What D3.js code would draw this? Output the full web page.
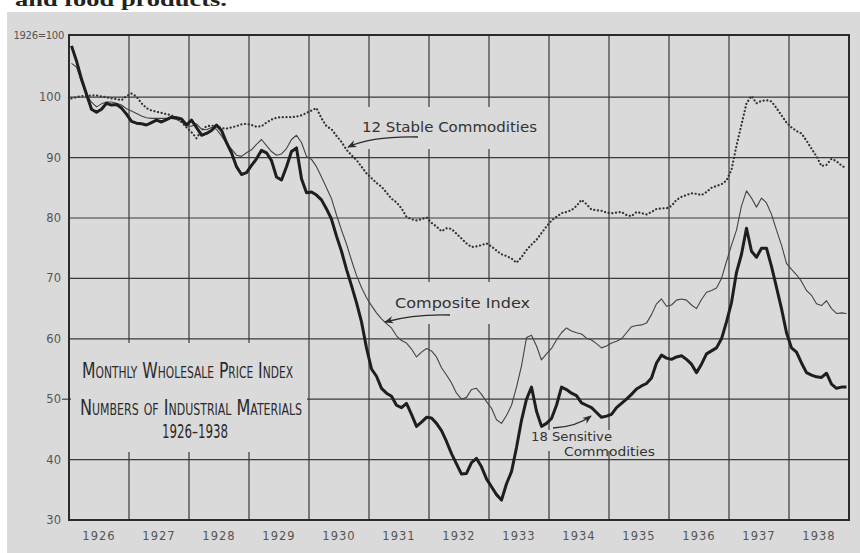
<!DOCTYPE html>
<html>
<head>
<meta charset="utf-8">
<script src="https://cdn.jsdelivr.net/npm/d3@7"></script>
<style>
  body { margin: 0; background: #fff; }
  svg { display: block; }
</style>
</head>
<body>
<div id="chart"></div>
<script>
// monthly index numbers, 1926 = 100 (Jan 1926 .. Dec 1938)
var years = [1926, 1927, 1928, 1929, 1930, 1931, 1932, 1933, 1934, 1935, 1936, 1937, 1938];
var yTicks = [30, 40, 50, 60, 70, 80, 90, 100];

var sensitive = [
  108.5, 106, 103, 100.5, 98, 97.5, 98, 99, 98.7, 98.8, 98.2, 97.2,
  96, 95.7, 95.6, 95.4, 95.8, 96.2, 95.9, 96.3, 96.7, 96.6, 96.4, 95.4,
  96.2, 95, 93.7, 94, 94.5, 95.4, 94.5, 92.5, 90.8, 88.5, 87.2, 87.5,
  88.7, 89.8, 91.2, 90.8, 89.5, 86.8, 86.3, 88.5, 91, 91.6, 86.5, 84.2,
  84.3, 83.8, 83, 81.5, 79.8, 77, 74.5, 71.5, 68.8, 66, 62.8, 58.5,
  55, 53.8, 51.8, 51, 50.5, 49, 48.6, 49.3, 47.5, 45.5, 46.2, 47,
  46.9, 46, 44.8, 43, 41, 39.3, 37.6, 37.7, 39.5, 40.2, 38.8, 36.8,
  35.5, 34.2, 33.3, 36, 38, 42, 46.5, 50, 52, 48, 45.5, 46,
  46.8, 49, 52, 51.6, 51, 50.6, 49.4, 49, 48.6, 47.8, 47, 47.2,
  47.5, 48.6, 49.3, 50, 50.8, 51.7, 52.2, 52.6, 53.5, 56, 57.3, 56.8,
  56.6, 57, 57.2, 56.6, 55.8, 54.4, 55.8, 57.5, 58, 58.5, 60, 62.8,
  66, 71, 74, 78.3, 74.5, 73.5, 75, 75, 72, 68.5, 65, 61,
  58.5, 57.8, 56, 54.4, 54, 53.7, 53.6, 54.3, 52.5, 51.8, 52, 52
];

var composite = [
  105.6, 105, 102.5, 100.3, 99.2, 98.4, 98.9, 99.2, 99.2, 99, 98.7, 98.1,
  97.7, 97.3, 96.9, 96.6, 96.5, 96.5, 96.5, 96.5, 96.5, 96.3, 95.9, 95.3,
  95.2, 95.6, 94.7, 94.6, 95, 94.7, 93.6, 92.3, 91.4, 90.4, 90.2, 90.8,
  91.3, 92.2, 93, 92, 91, 90.4, 90.6, 91.5, 93, 93.7, 92.5, 90.2,
  89.7, 88.5, 86.8, 85, 83.2, 80.5, 78, 75.7, 73, 70.5, 68.5, 66.8,
  65.5, 64.3, 63.3, 62.5, 61.8, 60.5, 59.7, 59.3, 58.3, 57, 57.8, 58.4,
  58, 57, 55.2, 54, 52.7, 51, 50, 50.3, 51.6, 51.8, 50.8, 49.6,
  48.5, 46.6, 46, 47.3, 49, 52, 55.5, 60.2, 60.6, 58.8, 56.5, 57.5,
  58.4, 59.8, 61, 61.8, 61.3, 61, 60.8, 60.1, 59.8, 59.2, 58.5, 58.8,
  59.3, 59.6, 60, 61, 62, 62.2, 62.3, 62.6, 64, 65.8, 66.6, 65.4,
  65.6, 66.4, 66.6, 66.4, 65.6, 65, 66.5, 67.7, 68, 68.4, 70, 72.8,
  75.5, 78, 82, 84.5, 83.3, 81.8, 83.3, 82.5, 80.6, 78, 75.5, 72.5,
  71.5, 70.6, 69.5, 68, 67.2, 65.8, 65.5, 66.3, 65, 64.2, 64.3, 64.2
];

var stable = [
  99.8, 100, 100.2, 100.2, 100.3, 100.3, 100.1, 100, 99.8, 99.7, 99.5, 100.2,
  100.6, 100.1, 99, 98.2, 97.8, 97.6, 97.4, 97.2, 97, 96.6, 95.9, 95,
  94.2, 93.2, 94.5, 95.2, 95.3, 95.2, 94.9, 94.8, 95, 95.2, 95.5, 95.6,
  95.4, 95.1, 95.2, 95.8, 96.3, 96.6, 96.7, 96.7, 96.7, 96.8, 97, 97.4,
  97.8, 98.2, 96.5, 95.2, 94.7, 93.6, 92.6, 91.3, 90.4, 89.6, 88.5, 87.4,
  86.6, 85.8, 85.2, 84.2, 83.2, 82.6, 81.6, 80.2, 79.8, 79.6, 79.8, 80.1,
  79.2, 78.6, 77.8, 78.3, 78.2, 77.4, 76.6, 75.8, 75.2, 75.3, 75.5, 75.8,
  75.3, 74.6, 74, 73.7, 73.3, 72.6, 73.5, 74.7, 75.6, 76.4, 77.5, 78.6,
  79.6, 80.2, 80.8, 81, 81.3, 82, 83, 82.3, 81.4, 81.3, 81.2, 80.9,
  80.8, 80.9, 81, 80.5, 80.3, 81, 80.8, 80.6, 81, 81.5, 81.6, 81.6,
  82, 83, 83.5, 83.8, 84.1, 84, 83.8, 84.3, 85, 85.3, 85.6, 86.2,
  88, 92, 95.5, 99, 100.2, 99, 99.4, 99.5, 99.3, 98.2, 97, 95.8,
  95, 94.4, 94, 92.8, 91.5, 90.2, 88.6, 88.8, 89.8, 89.4, 88.7, 88.2
];

var W = 860, H = 553;
var paperCol = "#dadada", ink = "#2b2b2b";

var svg = d3.select("#chart").append("svg").attr("width", W).attr("height", H);

// scanned page: white strip with clipped text line, grey paper below
svg.append("text").attr("x", 15).attr("y", 6)
  .attr("font-family", "'Liberation Serif','DejaVu Serif',serif")
  .attr("font-weight", "bold").attr("font-size", 18)
  .attr("textLength", 212).attr("lengthAdjust", "spacingAndGlyphs")
  .attr("fill", "#222").text("and food products.");
svg.append("rect").attr("x", 7).attr("y", 12).attr("width", W - 7).attr("height", H - 12)
  .attr("fill", paperCol);

var x = d3.scaleLinear().domain([1926, 1939]).range([69, 849]);
var y = d3.scaleLinear().domain([30, 110.3]).range([520, 35]);

function monthX(i) { return x(1926 + (i + 0.5) / 12); }

var grid = svg.append("g").attr("stroke", "#3a3a3a").attr("stroke-width", 1.2);
grid.selectAll("line.h").data(yTicks.filter(function(d){ return d > 30; })).enter()
  .append("line").attr("class", "h")
  .attr("x1", x(1926)).attr("x2", x(1939))
  .attr("y1", function(d){ return y(d); }).attr("y2", function(d){ return y(d); });
grid.selectAll("line.v").data(years.slice(1)).enter()
  .append("line").attr("class", "v")
  .attr("x1", function(d){ return x(d); }).attr("x2", function(d){ return x(d); })
  .attr("y1", y(110.3)).attr("y2", y(30));

// hand drawn grid is broken behind the lettering
var gaps = [[360, 107, 185, 42], [390, 282, 150, 42], [71, 343, 236, 109], [528, 430, 132, 21]];
svg.selectAll("rect.gap").data(gaps).enter().append("rect").attr("class", "gap")
  .attr("x", function(d){ return d[0]; }).attr("y", function(d){ return d[1]; })
  .attr("width", function(d){ return d[2]; }).attr("height", function(d){ return d[3]; })
  .attr("fill", paperCol);

// frame
svg.append("rect").attr("x", x(1926)).attr("y", y(110.3))
  .attr("width", x(1939) - x(1926)).attr("height", y(30) - y(110.3))
  .attr("fill", "none").attr("stroke", ink).attr("stroke-width", 2);
svg.append("line").attr("x1", 62).attr("x2", x(1926)).attr("y1", y(50)).attr("y2", y(50))
  .attr("stroke", ink).attr("stroke-width", 1);

// axis labels
var lab = svg.append("g").attr("font-family", "'DejaVu Sans',sans-serif")
  .attr("font-size", 11.5).attr("fill", "#555");
lab.selectAll("text.yl").data(yTicks).enter().append("text").attr("class", "yl")
  .attr("x", 61).attr("y", function(d){ return y(d) + 4; })
  .attr("text-anchor", "end").text(function(d){ return d; });
lab.append("text").attr("x", 64).attr("y", 39).attr("text-anchor", "end")
  .attr("font-size", 10).attr("letter-spacing", -0.3).text("1926=100");
lab.selectAll("text.xl").data(years).enter().append("text").attr("class", "xl")
  .attr("x", function(d){ return x(d + 0.5); }).attr("y", 540)
  .attr("text-anchor", "middle").attr("letter-spacing", 1).text(function(d){ return d; });

// series
var line = d3.line().x(function(d, i){ return monthX(i); }).y(function(d){ return y(d); });
svg.append("path").datum(stable).attr("d", line).attr("fill", "none")
  .attr("stroke", "#333").attr("stroke-width", 2.2).attr("stroke-linecap", "round")
  .attr("stroke-dasharray", "0.1 3.6");
svg.append("path").datum(composite).attr("d", line).attr("fill", "none")
  .attr("stroke", "#444").attr("stroke-width", 1.1).attr("stroke-linejoin", "round");
svg.append("path").datum(sensitive).attr("d", line).attr("fill", "none")
  .attr("stroke", "#1e1e1e").attr("stroke-width", 3).attr("stroke-linejoin", "round");

// annotations
svg.append("defs").append("marker").attr("id", "head")
  .attr("viewBox", "0 0 10 10").attr("refX", 9).attr("refY", 5)
  .attr("markerWidth", 7).attr("markerHeight", 7).attr("orient", "auto")
  .append("path").attr("d", "M0,1 L10,5 L0,9 L3,5 Z").attr("fill", ink);

var arrows = [
  [[418, 137], [372, 136], [348, 147]],
  [[450, 315], [414, 314], [385, 322]],
  [[553, 428], [576, 427], [591, 416]]
];
arrows.forEach(function(a) {
  var p = d3.path();
  p.moveTo(a[0][0], a[0][1]);
  p.quadraticCurveTo(a[1][0], a[1][1], a[2][0], a[2][1]);
  svg.append("path").attr("d", p.toString()).attr("fill", "none")
    .attr("stroke", ink).attr("stroke-width", 1.3).attr("marker-end", "url(#head)");
});

var note = svg.append("g").attr("font-family", "'DejaVu Sans',sans-serif")
  .attr("fill", "#333").attr("font-size", 14);
note.append("text").attr("x", 362).attr("y", 132)
  .attr("textLength", 175).attr("lengthAdjust", "spacingAndGlyphs").text("12 Stable Commodities");
note.append("text").attr("x", 395).attr("y", 308)
  .attr("textLength", 135).attr("lengthAdjust", "spacingAndGlyphs").text("Composite Index");
note.append("text").attr("x", 531).attr("y", 441).attr("font-size", 12)
  .attr("textLength", 81).attr("lengthAdjust", "spacingAndGlyphs").text("18 Sensitive");
note.append("text").attr("x", 564).attr("y", 456).attr("font-size", 12)
  .attr("textLength", 91).attr("lengthAdjust", "spacingAndGlyphs").text("Commodities");

var title = svg.append("g")
  .attr("font-family", "'Liberation Sans Narrow','DejaVu Sans Condensed','Liberation Sans',sans-serif")
  .attr("fill", "#2a2a2a").attr("font-variant", "small-caps");
title.append("text").attr("x", 82).attr("y", 378).attr("font-size", 22)
  .attr("textLength", 211).attr("lengthAdjust", "spacingAndGlyphs").text("Monthly Wholesale Price Index");
title.append("text").attr("x", 80).attr("y", 415).attr("font-size", 22)
  .attr("textLength", 222).attr("lengthAdjust", "spacingAndGlyphs").text("Numbers of Industrial Materials");
title.append("text").attr("x", 195).attr("y", 438).attr("font-size", 20)
  .attr("text-anchor", "middle").attr("font-variant", "normal")
  .attr("textLength", 66).attr("lengthAdjust", "spacingAndGlyphs").text("1926–1938");
</script>
</body>
</html>
